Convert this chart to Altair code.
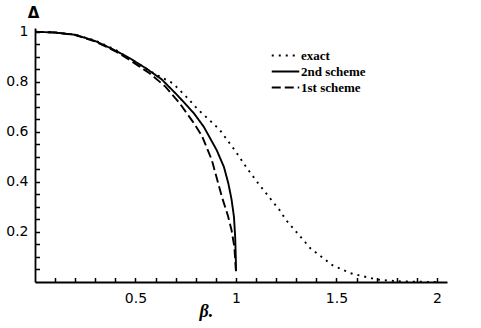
import altair as alt
import pandas as pd

# Gap Δ against β for the exact solution and the two approximation schemes
exact_beta = [0.0, 0.1, 0.2, 0.3, 0.4, 0.5, 0.6, 0.686, 0.753, 0.81, 0.886, 0.92,
              1.0, 1.05, 1.105, 1.217, 1.25, 1.37, 1.48, 1.57, 1.7, 1.8, 1.9, 2.0]
exact_delta = [1.0, 0.997, 0.988, 0.965, 0.928, 0.878, 0.83, 0.794, 0.74, 0.69, 0.634, 0.607,
               0.52, 0.46, 0.40, 0.287, 0.247, 0.135, 0.067, 0.035, 0.01, 0.003, 0.001, 0.0]

second_beta = [0.0, 0.1, 0.2, 0.3, 0.4, 0.47, 0.55, 0.63, 0.71, 0.79, 0.84, 0.904,
               0.94, 0.962, 0.978, 0.99, 0.996, 0.999, 1.0]
second_delta = [1.0, 0.997, 0.988, 0.963, 0.925, 0.895, 0.855, 0.81, 0.745, 0.675, 0.62, 0.527,
                0.46, 0.394, 0.33, 0.26, 0.18, 0.1, 0.045]

first_beta = [0.0, 0.1, 0.2, 0.3, 0.4, 0.47, 0.57, 0.65, 0.72, 0.786, 0.83, 0.88,
              0.93, 0.96, 0.978, 0.992, 1.0]
first_delta = [1.0, 0.997, 0.987, 0.961, 0.922, 0.888, 0.834, 0.78, 0.714, 0.64, 0.585, 0.487,
               0.34, 0.265, 0.207, 0.14, 0.04]

series_order = ["exact", "2nd scheme", "1st scheme"]

curves = pd.concat([
    pd.DataFrame({"beta": exact_beta, "delta": exact_delta, "series": "exact"}),
    pd.DataFrame({"beta": second_beta, "delta": second_delta, "series": "2nd scheme"}),
    pd.DataFrame({"beta": first_beta, "delta": first_delta, "series": "1st scheme"}),
], ignore_index=True)
curves["order"] = curves.groupby("series").cumcount()

# tick positions: labelled majors plus unlabelled minors
x_ticks = [round(0.1 * i, 2) for i in range(1, 21)]
y_ticks = [round(0.05 * i, 2) for i in range(1, 21)]

x_scale = alt.Scale(domain=[0, 2.05], nice=False, zero=False)
y_scale = alt.Scale(domain=[0, 1.015], nice=False, zero=False)

label_font = "DejaVu Sans"
inward = {"expr": "-4.5"}   # negative tick size turns the ticks into the plot

x_axis = alt.Axis(
    values=x_ticks, format="~g",
    labelExpr="abs(datum.value * 2 - round(datum.value * 2)) < 0.001 ? datum.label : ''",
    ticks=True, tickSize=inward, tickColor="black", tickWidth=1.5,
    grid=False, domain=True, domainColor="black", domainWidth=1.8,
    labelFont=label_font, labelFontSize=14, labelColor="black", labelPadding=13.5,
    title="β.", titleFont="Liberation Serif", titleFontSize=18,
    titleFontStyle="italic", titleFontWeight="bold",
    titleAnchor="start", titleX=164, titleY=34, titleBaseline="alphabetic",
)
y_axis = alt.Axis(
    values=y_ticks, format="~g",
    labelExpr="abs(datum.value * 5 - round(datum.value * 5)) < 0.001 ? datum.label : ''",
    ticks=True, tickSize=inward, tickColor="black", tickWidth=1.5,
    grid=False, domain=True, domainColor="black", domainWidth=1.8,
    labelFont=label_font, labelFontSize=14, labelColor="black", labelPadding=11.5,
    title="Δ", titleFont=label_font, titleFontSize=15, titleFontWeight="bold",
    titleAngle=0, titleAlign="center", titleBaseline="alphabetic",
    titleX=-2, titleY=-11,
)

chart = alt.Chart(curves).mark_line(color="black", strokeWidth=1.9, strokeCap="butt").encode(
    x=alt.X("beta:Q", scale=x_scale, axis=x_axis),
    y=alt.Y("delta:Q", scale=y_scale, axis=y_axis),
    strokeDash=alt.StrokeDash(
        "series:N",
        scale=alt.Scale(domain=series_order, range=[[2, 5], [1, 0], [9, 4]]),
        sort=series_order,
        legend=alt.Legend(
            title=None, orient="none", legendX=244, legendY=21,
            symbolType="M-2.5,0H2.5", symbolSize=121, symbolStrokeWidth=2,
            symbolStrokeColor="black", symbolFillColor="transparent",
            labelFont="Liberation Serif",
            labelFontSize=13, labelFontWeight="bold", labelColor="black",
            labelOffset=9, padding=0,
        ),
    ),
    order="order:Q",
).properties(
    width=412, height=254,
    autosize=alt.AutoSizeParams(type="none"),
    padding={"left": 35, "top": 28, "right": 34, "bottom": 46},
    background="white",
).configure_view(stroke=None)

chart.save("out.html", embed_options={"renderer": "svg", "actions": False})
